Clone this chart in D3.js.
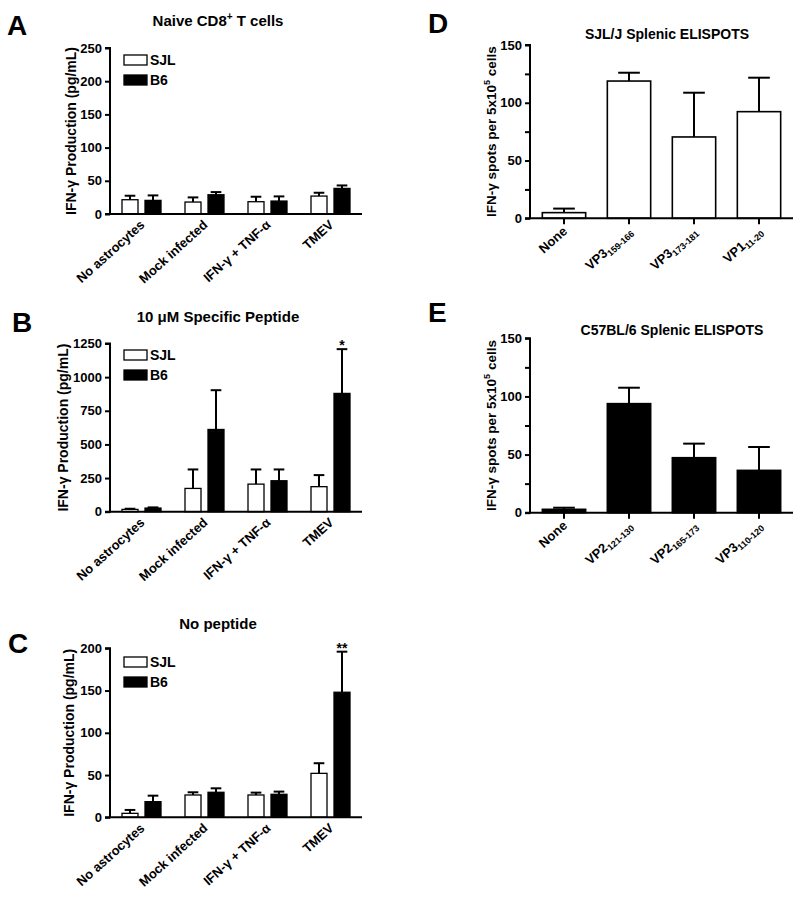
<!DOCTYPE html>
<html><head><meta charset="utf-8">
<script src="https://cdn.jsdelivr.net/npm/d3@7"></script>
<style>
html,body{margin:0;padding:0;background:#fff;}
text{font-family:"Liberation Sans",Arial,sans-serif;font-weight:bold;fill:#000;}
</style></head>
<body>
<svg id="chart" width="800" height="898"></svg>
<script>
// ---------- DATA ----------
const conditions = ["No astrocytes", "Mock infected", "IFN-γ + TNF-α", "TMEV"];
const strains = ["SJL", "B6"];

// Panel A: Naive CD8+ T cells
const aSJL = [21.5, 18, 18.5, 27];
const aSJLerr = [6, 7, 7.5, 5];
const aB6 = [20.5, 29, 19.5, 38.5];
const aB6err = [7.5, 4, 7, 4.5];
const aTicks = [0, 50, 100, 150, 200, 250];

// Panel B: 10 µM Specific Peptide
const bSJL = [17, 173, 205, 186];
const bSJLerr = [5, 141, 109, 86];
const bB6 = [27, 611, 230, 879];
const bB6err = [5, 292, 84, 329];
const bTicks = [0, 250, 500, 750, 1000, 1250];

// Panel C: No peptide
const cSJL = [4.7, 26.4, 26.4, 52];
const cSJLerr = [4, 3.2, 2.8, 12];
const cB6 = [18.5, 29.6, 27.2, 148];
const cB6err = [7.1, 4.7, 3.2, 48];
const cTicks = [0, 50, 100, 150, 200];

// Panel D: SJL/J Splenic ELISPOTS
const dBase = ["None", "VP3", "VP3", "VP1"];
const dSub = ["", "159-166", "173-181", "11-20"];
const dVals = [4.9, 118.8, 70.4, 92.3];
const dErr = [3.5, 7.2, 38.3, 29.4];

// Panel E: C57BL/6 Splenic ELISPOTS
const eBase = ["None", "VP2", "VP2", "VP3"];
const eSub = ["", "121-130", "165-173", "110-120"];
const eVals = [2.9, 93.8, 47.3, 36.4];
const eErr = [1.4, 13.7, 12.1, 20.1];

const spotTicks = [0, 25, 50, 75, 100, 125, 150];
const spotLabels = [0, 50, 100, 150];

// ---------- DRAW ----------
const svg = d3.select("#chart");

function panelLetter(txt, x, y) {
  svg.append("text").attr("x", x).attr("y", y).attr("font-size", 28).text(txt);
}

function yAxis(g, scale, ticks, labeled, x) {
  const ax = d3.axisLeft(scale).tickValues(ticks).tickSize(5).tickPadding(3)
    .tickFormat(d => labeled.includes(d) ? d : "");
  const gg = g.append("g").attr("transform", `translate(${x},0)`).call(ax);
  gg.select(".domain").attr("stroke-width", 2).attr("d", `M-5,${scale.range()[0]}H0V${scale.range()[1]}H-5`);
  gg.selectAll(".tick line").attr("stroke-width", 2);
  gg.selectAll(".tick text").attr("font-size", 13).style("font-family", '"Liberation Sans",Arial,sans-serif').style("font-weight", "bold");
  return gg;
}

function yLabel(g, parts, x, yc, fs) {
  const t = g.append("text").attr("transform", `translate(${x},${yc}) rotate(-90)`)
    .attr("text-anchor", "middle").attr("font-size", fs);
  parts.forEach(p => {
    const s = t.append("tspan").text(p.t);
    if (p.sup) s.attr("font-size", 9).attr("dy", -6);
    if (p.after) s.attr("dy", 6);
  });
}

function groupedPanel(opt) {
  const g = svg.append("g");
  const x = d3.scaleBand().domain(conditions).range([110, 362]).padding(0);
  const xs = d3.scaleBand().domain(strains).range([12, 51]).paddingInner(7 / 23).paddingOuter(0);
  const y = d3.scaleLinear().domain([0, opt.max]).range([opt.y0, opt.y1]);
  const series = [
    {s: "SJL", v: opt.sjl, e: opt.sjlErr, fill: "#fff"},
    {s: "B6", v: opt.b6, e: opt.b6Err, fill: "#000"}
  ];
  series.forEach(ser => {
    conditions.forEach((c, i) => {
      const bx = x(c) + xs(ser.s), bw = xs.bandwidth();
      const cx = bx + bw / 2, top = y(ser.v[i]), cap = y(ser.v[i] + ser.e[i]);
      g.append("line").attr("x1", cx).attr("x2", cx).attr("y1", top).attr("y2", cap)
        .attr("stroke", "#000").attr("stroke-width", 2);
      g.append("line").attr("x1", cx - bw / 3).attr("x2", cx + bw / 3).attr("y1", cap).attr("y2", cap)
        .attr("stroke", "#000").attr("stroke-width", 2);
      g.append("rect").attr("x", bx).attr("y", top).attr("width", bw).attr("height", y(0) - top)
        .attr("fill", ser.fill).attr("stroke", "#000").attr("stroke-width", 1.3);
    });
  });
  // axes
  yAxis(g, y, opt.ticks, opt.ticks, 110);
  g.append("line").attr("x1", 109).attr("x2", 362).attr("y1", y(0)).attr("y2", y(0))
    .attr("stroke", "#000").attr("stroke-width", 2);
  // x labels
  conditions.forEach(c => {
    const cx = x(c) + x.bandwidth() / 2 + 4;
    const t = g.append("text").attr("text-anchor", "end").attr("font-size", 13)
      .attr("transform", `translate(${cx},${y(0) + 12}) rotate(-42)`);
    t.text(c);
  });
  // legend
  const ly = opt.legendY;
  [["SJL", "#fff"], ["B6", "#000"]].forEach((d, i) => {
    g.append("rect").attr("x", 124).attr("y", ly + i * 20).attr("width", 23).attr("height", 10)
      .attr("fill", d[1]).attr("stroke", "#000").attr("stroke-width", 1.3);
    g.append("text").attr("x", 150).attr("y", ly + i * 20 + 10).attr("font-size", 14).text(d[0]);
  });
  // stars
  if (opt.star) {
    const c = conditions[3];
    const cx = x(c) + xs("B6") + xs.bandwidth() / 2;
    g.append("text").attr("x", cx).attr("y", y(opt.b6[3] + opt.b6Err[3]) + 1).attr("text-anchor", "middle")
      .attr("font-size", 14).text(opt.star);
  }
  // title
  const tt = g.append("text").attr("x", 218).attr("y", opt.titleY).attr("text-anchor", "middle").attr("font-size", 15);
  opt.title.forEach(p => {
    const s = tt.append("tspan").text(p.t);
    if (p.sup) s.attr("font-size", 10).attr("dy", -6);
    if (p.after) s.attr("dy", 6);
  });
  yLabel(g, [{t: "IFN-γ Production (pg/mL)"}], opt.labelX, (opt.y0 + opt.y1) / 2, 14);
}

groupedPanel({sjl: aSJL, sjlErr: aSJLerr, b6: aB6, b6Err: aB6err, ticks: aTicks, max: 250,
  y0: 214, y1: 48, legendY: 55, titleY: 26, labelX: 76,
  title: [{t: "Naive CD8"}, {t: "+", sup: true}, {t: " T cells", after: true}]});
groupedPanel({sjl: bSJL, sjlErr: bSJLerr, b6: bB6, b6Err: bB6err, ticks: bTicks, max: 1250,
  y0: 511.7, y1: 343.5, legendY: 350, titleY: 322, star: "*", labelX: 68,
  title: [{t: "10 μM Specific Peptide"}]});
groupedPanel({sjl: cSJL, sjlErr: cSJLerr, b6: cB6, b6Err: cB6err, ticks: cTicks, max: 200,
  y0: 817.3, y1: 648.3, legendY: 657, titleY: 629, star: "**", labelX: 74,
  title: [{t: "No peptide"}]});

function spotPanel(opt) {
  const g = svg.append("g");
  const idx = opt.vals.map((d, i) => i);
  const x = d3.scaleBand().domain(idx).range([531.5, 791.5]).paddingInner(1 / 3).paddingOuter(1 / 6);
  const y = d3.scaleLinear().domain([0, 150]).range([opt.y0, opt.y1]);
  idx.forEach(i => {
    const bx = x(i), bw = x.bandwidth(), cx = bx + bw / 2;
    const top = y(opt.vals[i]), cap = y(opt.vals[i] + opt.err[i]);
    g.append("line").attr("x1", cx).attr("x2", cx).attr("y1", top).attr("y2", cap)
      .attr("stroke", "#000").attr("stroke-width", 2);
    g.append("line").attr("x1", cx - bw / 4).attr("x2", cx + bw / 4).attr("y1", cap).attr("y2", cap)
      .attr("stroke", "#000").attr("stroke-width", 2);
    g.append("rect").attr("x", bx).attr("y", top).attr("width", bw).attr("height", y(0) - top)
      .attr("fill", opt.fill).attr("stroke", "#000").attr("stroke-width", 1.6);
  });
  yAxis(g, y, spotTicks, spotLabels, 530);
  const xa = d3.axisBottom(x).tickSize(6).tickFormat("");
  const gx = g.append("g").attr("transform", `translate(0,${opt.y0})`).call(xa);
  gx.select(".domain").attr("stroke-width", 2).attr("d", "M529,0H793");
  gx.selectAll(".tick line").attr("stroke-width", 2);
  idx.forEach(i => {
    const cx = x(i) + x.bandwidth() / 2 + 4;
    const t = g.append("text").attr("text-anchor", "end").attr("font-size", 13)
      .attr("transform", `translate(${cx},${opt.y0 + 14}) rotate(-42)`);
    t.append("tspan").text(opt.base[i]);
    if (opt.sub[i]) t.append("tspan").attr("font-size", 9).attr("dy", 3).text(opt.sub[i]);
  });
  g.append("text").attr("x", opt.titleX).attr("y", opt.titleY).attr("text-anchor", "middle")
    .attr("font-size", 14).text(opt.title);
  yLabel(g, [{t: "IFN-γ spots per 5x10"}, {t: "5", sup: true}, {t: " cells", after: true}], 496, (opt.y0 + opt.y1) / 2, 13.5);
}

spotPanel({vals: dVals, err: dErr, base: dBase, sub: dSub, fill: "#fff", y0: 218.3, y1: 45,
  title: "SJL/J Splenic ELISPOTS", titleX: 667, titleY: 39});
spotPanel({vals: eVals, err: eErr, base: eBase, sub: eSub, fill: "#000", y0: 512.7, y1: 338.3,
  title: "C57BL/6 Splenic ELISPOTS", titleX: 672, titleY: 335});

panelLetter("A", 7, 35);
panelLetter("B", 12, 332);
panelLetter("C", 8, 653);
panelLetter("D", 428, 33);
panelLetter("E", 428, 322);
</script>
</body></html>
